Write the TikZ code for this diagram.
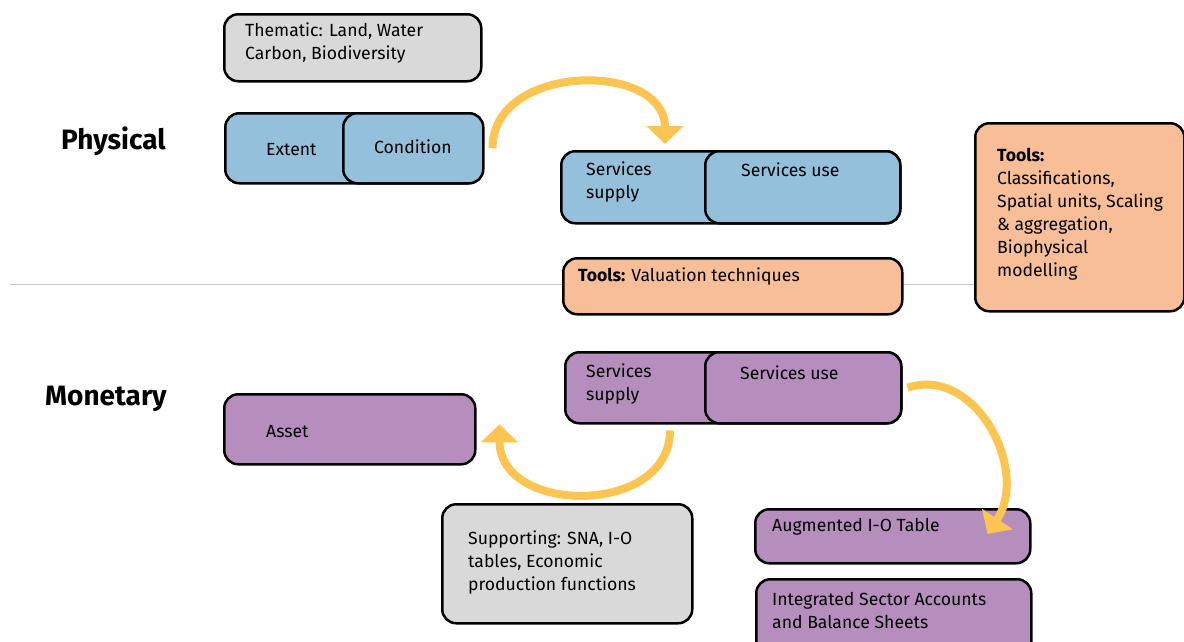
\documentclass[tikz,border=0pt]{standalone}
\usepackage{fontspec}
\setmainfont{Fira Sans}
\usetikzlibrary{arrows.meta}
\definecolor{physblue}{HTML}{94C0DC}
\definecolor{monpurple}{HTML}{B58EBD}
\definecolor{toolpeach}{HTML}{F7BE97}
\definecolor{suppgray}{HTML}{D9D9D9}
\definecolor{flowyellow}{HTML}{FCC450}
\begin{document}
\begin{tikzpicture}[x=1pt,y=-1pt,
    box/.style={draw,line width=2.5pt,rounded corners=14pt,anchor=north west,inner sep=0pt},
    txt/.style={anchor=west,align=left,inner sep=0pt,font=\fontsize{17.6}{23}\selectfont},
    side/.style={anchor=west,inner sep=0pt,font=\bfseries\fontsize{28}{30}\selectfont},
    flow/.style={draw=flowyellow,line width=8pt,-{Triangle[length=18pt,width=36pt]}}]
    \clip (0,0) rectangle (1184,641);
    \draw[black!22,line width=1pt] (10,284) -- (1180,284); % physical / monetary divider

    % physical accounts
    \node[box,fill=suppgray,minimum width=257pt,minimum height=67pt] (thematic) at (223,13) {};
    \node[box,fill=physblue,minimum width=257pt,minimum height=70pt] (extent) at (224,112) {};
    \node[box,fill=physblue,minimum width=140pt,minimum height=70pt] (condition) at (342,112) {};
    \node[box,fill=physblue,minimum width=339pt,minimum height=72pt] (supplyP) at (560,150) {};
    \node[box,fill=physblue,minimum width=195pt,minimum height=72pt] (useP) at (704,150) {};
    \node[box,fill=toolpeach,minimum width=339pt,minimum height=56pt] (valuation) at (562,257) {};
    \node[box,fill=toolpeach,minimum width=209pt,minimum height=188pt] (toolsR) at (974,122) {};

    % monetary accounts
    \node[box,fill=monpurple,minimum width=336pt,minimum height=71pt] (supplyM) at (564,351) {};
    \node[box,fill=monpurple,minimum width=196pt,minimum height=71pt] (useM) at (704,351) {};
    \node[box,fill=monpurple,minimum width=251pt,minimum height=70pt] (asset) at (223,393) {};
    \node[box,fill=suppgray,minimum width=250pt,minimum height=119pt] (supporting) at (441,503) {};
    \node[box,fill=monpurple,minimum width=275pt,minimum height=54pt] (augmented) at (754,508) {};
    \node[box,fill=monpurple,minimum width=275pt,minimum height=80pt] (integrated) at (755,578) {};

    % texts
    \node[side] (physical) at (61,141) {Physical};
    \node[side] (monetary) at (45,399) {Monetary};
    \node[txt] (thematicT) at (245,43) {Thematic: Land, Water\\Carbon, Biodiversity};
    \node[txt] (extentT) at (266,150) {Extent};
    \node[txt] (conditionT) at (374,147) {Condition};
    \node[txt] (supplyPT) at (586,182) {Services\\supply};
    \node[txt] (usePT) at (741,170) {Services use};
    \node[txt] (valuationT) at (578,277) {\textbf{Tools:} Valuation techniques};
    \node[txt] (toolsRT) at (997,214) {\textbf{Tools:}\\Classifications,\\Spatial units, Scaling\\\& aggregation,\\Biophysical\\modelling};
    \node[txt] (supplyMT) at (586,384) {Services\\supply};
    \node[txt] (useMT) at (740,373) {Services use};
    \node[txt] (assetT) at (266,432) {Asset};
    \node[txt] (supportingT) at (468,562) {Supporting: SNA, I-O\\tables, Economic\\production functions};
    \node[txt] (augmentedT) at (772,527) {Augmented I-O Table};
    \node[txt] (integratedT) at (772,610) {Integrated Sector Accounts\\and Balance Sheets};

    % flows
    \draw[flow] ([xshift=8pt]condition.east) .. controls +(0,-86) and +(0,-83) .. ([xshift=105pt,yshift=6pt]supplyP.north west);
    \draw[flow] ([xshift=106pt,yshift=-6pt]supplyM.south west) .. controls +(0,86) and +(0,91) .. ([xshift=23pt,yshift=5pt]asset.east);
    \draw[flow] ([xshift=5pt]useM.east) .. controls (975,365) and (1030,470) .. ([xshift=-44pt,yshift=-26pt]augmented.north east);
\end{tikzpicture}
\end{document}
